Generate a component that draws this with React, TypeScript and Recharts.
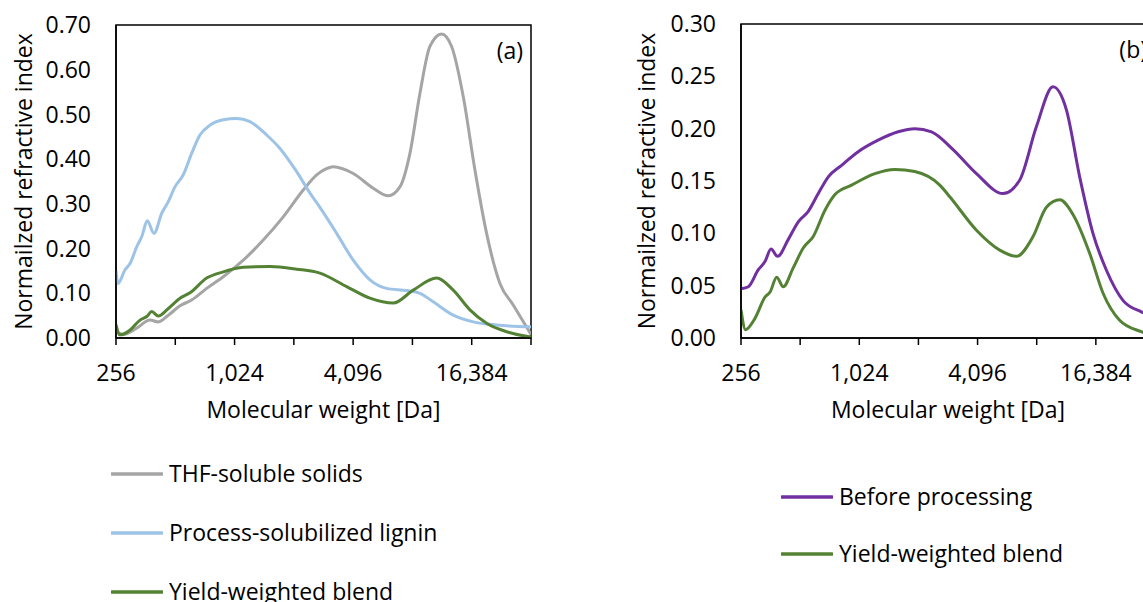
import React from 'react';
import { LineChart, Line, XAxis, YAxis, ReferenceArea, Legend } from 'recharts';

// ---------- axis ticks ----------
const xTicks = [256, 512, 1024, 2048, 4096, 8192, 16384, 32768];
const xLabelled = [256, 1024, 4096, 16384];
const yTicksA = [0, 0.1, 0.2, 0.3, 0.4, 0.5, 0.6, 0.7];
const yTicksB = [0, 0.05, 0.1, 0.15, 0.2, 0.25, 0.3];

// ---------- series names ----------
const seriesA = ['THF-soluble solids', 'Process-solubilized lignin', 'Yield-weighted blend'];
const seriesB = ['Before processing', 'Yield-weighted blend'];

// ---------- panel (a) ----------
const thfMW = [256, 279, 326, 381, 420, 472, 541, 620, 739, 897, 1134, 1432, 1809, 2286, 2675, 2945, 3245, 4101, 5181, 6174, 7078, 7957, 8941, 10050, 11521, 12954, 14838, 17008, 19497, 22789, 26616, 32768];
const thfRI = [0.015, 0.008, 0.022, 0.040, 0.036, 0.051, 0.072, 0.085, 0.111, 0.137, 0.174, 0.219, 0.271, 0.331, 0.365, 0.377, 0.383, 0.368, 0.335, 0.318, 0.338, 0.413, 0.547, 0.652, 0.680, 0.652, 0.540, 0.376, 0.234, 0.122, 0.074, 0.008];

const ligninMW = [256, 262, 284, 302, 326, 346, 369, 399, 437, 472, 510, 562, 620, 683, 768, 897, 1049, 1226, 1490, 1741, 2116, 2473, 2778, 3378, 4101, 4984, 6059, 7654, 8941, 10447, 13199, 16676, 21921, 32768];
const ligninRI = [0.150, 0.122, 0.152, 0.167, 0.204, 0.227, 0.262, 0.234, 0.279, 0.305, 0.338, 0.365, 0.413, 0.454, 0.476, 0.488, 0.491, 0.484, 0.454, 0.424, 0.372, 0.324, 0.292, 0.234, 0.174, 0.130, 0.111, 0.106, 0.100, 0.081, 0.051, 0.036, 0.029, 0.025];

const blendAMW = [256, 268, 302, 339, 367, 389, 420, 472, 541, 608, 739, 897, 1134, 1549, 2116, 2778, 3796, 4984, 6545, 8267, 10870, 13199, 16046, 19497, 24643, 32768];
const blendARI = [0.030, 0.007, 0.018, 0.040, 0.048, 0.059, 0.049, 0.066, 0.089, 0.101, 0.134, 0.148, 0.158, 0.160, 0.154, 0.145, 0.115, 0.089, 0.078, 0.107, 0.134, 0.107, 0.063, 0.033, 0.014, 0.002];

// ---------- panel (b) ----------
const beforeMW = [256, 279, 313, 339, 364, 393, 445, 501, 563, 633, 712, 832, 1011, 1277, 1615, 1963, 2388, 3074, 4043, 5522, 6714, 8164, 9912, 11600, 13552, 15836, 18522, 22506, 27917, 32768];
const beforeRI = [0.047, 0.049, 0.065, 0.073, 0.085, 0.078, 0.094, 0.111, 0.121, 0.138, 0.154, 0.165, 0.178, 0.189, 0.197, 0.200, 0.197, 0.180, 0.157, 0.138, 0.151, 0.202, 0.240, 0.218, 0.154, 0.100, 0.065, 0.036, 0.025, 0.020];

const blendBMW = [256, 270, 302, 339, 360, 389, 420, 472, 531, 597, 685, 770, 936, 1230, 1553, 1963, 2631, 2957, 4043, 5312, 6459, 7847, 9178, 10727, 12529, 15232, 17806, 21647, 27917, 32768];
const blendBRI = [0.027, 0.008, 0.019, 0.039, 0.044, 0.058, 0.049, 0.067, 0.086, 0.097, 0.122, 0.137, 0.146, 0.157, 0.161, 0.159, 0.146, 0.135, 0.103, 0.084, 0.078, 0.097, 0.125, 0.132, 0.118, 0.081, 0.043, 0.017, 0.006, 0.002];

const zip = (mw: number[], ri: number[]) => mw.map((m, i) => ({ mw: m, ri: ri[i] }));

const thfData = zip(thfMW, thfRI);
const ligninData = zip(ligninMW, ligninRI);
const blendAData = zip(blendAMW, blendARI);
const beforeData = zip(beforeMW, beforeRI);
const blendBData = zip(blendBMW, blendBRI);

const FONT = 23;

const yTitle = (dx: number) => (props: any) => {
  const vb = props.viewBox || { x: 0, y: 0, width: 0, height: 0 };
  const cx = vb.x + dx;
  const cy = vb.y + vb.height / 2;
  return (
    <text
      x={cx}
      y={cy}
      transform={`rotate(-90 ${cx} ${cy})`}
      textAnchor="middle"
      dominantBaseline="central"
      fontSize={FONT}
      fill="#000"
    >
      Normailzed refractive index
    </text>
  );
};

const legendContent = (itemH: number, order: string[]) => (props: any) => {
  const payload = [...(props.payload || [])].sort(
    (a: any, b: any) => order.indexOf(a.value) - order.indexOf(b.value)
  );
  return (
    <div>
      {payload.map((p: any) => (
        <div key={p.value} style={{ display: 'flex', alignItems: 'center', height: itemH }}>
          <svg width={52} height={6} style={{ display: 'block' }}>
            <line x1={1} y1={3} x2={51} y2={3} stroke={p.color} strokeWidth={3.5} strokeLinecap="round" />
          </svg>
          <span style={{ marginLeft: 6, fontSize: 23, color: '#000', whiteSpace: 'nowrap', lineHeight: 1 }}>{p.value}</span>
        </div>
      ))}
    </div>
  );
};

const xFmt = (v: number) => (xLabelled.includes(v) ? v.toLocaleString('en-US') : '');

export default function App() {
  return (
    <div
      style={{
        position: 'absolute',
        left: 0,
        top: 0,
        width: 1143,
        height: 602,
        overflow: 'hidden',
        background: '#fff',
        fontFamily: '"Open Sans", sans-serif',
      }}
    >
      <div style={{ position: 'absolute', left: 0, top: 0 }}>
        <LineChart width={560} height={602} margin={{ top: 25, right: 29, left: 6, bottom: 184 }}>
          <XAxis
            dataKey="mw"
            type="number"
            scale="log"
            domain={[256, 32768]}
            ticks={xTicks}
            interval={0}
            allowDataOverflow
            tickFormatter={xFmt}
            tick={{ fill: '#000', fontSize: FONT }}
            tickSize={7}
            tickMargin={20}
            height={80}
            axisLine={{ stroke: '#000', strokeWidth: 1.5 }}
            tickLine={{ stroke: '#000', strokeWidth: 1.5 }}
            label={{ value: 'Molecular weight [Da]', position: 'insideBottom', offset: 0, fill: '#000', fontSize: FONT }}
          />
          <YAxis
            type="number"
            domain={[0, 0.7]}
            ticks={yTicksA}
            interval={0}
            allowDataOverflow
            tickFormatter={(v: number) => v.toFixed(2)}
            tick={{ fill: '#000', fontSize: FONT }}
            tickLine={false}
            tickSize={0}
            tickMargin={25}
            width={110}
            axisLine={{ stroke: '#000', strokeWidth: 1.5 }}
            label={{ content: yTitle(17) }}
          />
          <ReferenceArea
            x1={256}
            x2={32768}
            y1={0}
            y2={0.7}
            fill="none"
            stroke="#000"
            strokeWidth={1.5}
            ifOverflow="visible"
            label={{ value: '(a)', position: 'insideTopRight', offset: 8, dy: 10, fill: '#000', fontSize: 23 }}
          />
          <Line data={thfData} dataKey="ri" name={seriesA[0]} type="monotone" stroke="#A5A5A5" strokeWidth={3} dot={false} activeDot={false} isAnimationActive={false} />
          <Line data={ligninData} dataKey="ri" name={seriesA[1]} type="monotone" stroke="#9DC3E6" strokeWidth={3} dot={false} activeDot={false} isAnimationActive={false} />
          <Line data={blendAData} dataKey="ri" name={seriesA[2]} type="monotone" stroke="#548235" strokeWidth={3} dot={false} activeDot={false} isAnimationActive={false} />
          <Legend
            layout="vertical"
            align="center"
            verticalAlign="middle"
            content={legendContent(59, seriesA)}
            wrapperStyle={{ left: 111, top: 444, width: 420 }}
          />
        </LineChart>
      </div>
      <div style={{ position: 'absolute', left: 625, top: 0 }}>
        <LineChart width={560} height={602} margin={{ top: 24, right: 30, left: 6, bottom: 184 }}>
          <XAxis
            dataKey="mw"
            type="number"
            scale="log"
            domain={[256, 32768]}
            ticks={xTicks}
            interval={0}
            allowDataOverflow
            tickFormatter={xFmt}
            tick={{ fill: '#000', fontSize: FONT }}
            tickSize={7}
            tickMargin={20}
            height={80}
            axisLine={{ stroke: '#000', strokeWidth: 1.5 }}
            tickLine={{ stroke: '#000', strokeWidth: 1.5 }}
            label={{ value: 'Molecular weight [Da]', position: 'insideBottom', offset: 0, fill: '#000', fontSize: FONT }}
          />
          <YAxis
            type="number"
            domain={[0, 0.3]}
            ticks={yTicksB}
            interval={0}
            allowDataOverflow
            tickFormatter={(v: number) => v.toFixed(2)}
            tick={{ fill: '#000', fontSize: FONT }}
            tickLine={false}
            tickSize={0}
            tickMargin={25}
            width={110}
            axisLine={{ stroke: '#000', strokeWidth: 1.5 }}
            label={{ content: yTitle(15) }}
          />
          <ReferenceArea
            x1={256}
            x2={32768}
            y1={0}
            y2={0.3}
            fill="none"
            stroke="#000"
            strokeWidth={1.5}
            ifOverflow="visible"
            label={{ value: '(b)', position: 'insideTopRight', offset: 8, dy: 10, fill: '#000', fontSize: 23 }}
          />
          <Line data={beforeData} dataKey="ri" name={seriesB[0]} type="monotone" stroke="#7030A0" strokeWidth={3} dot={false} activeDot={false} isAnimationActive={false} />
          <Line data={blendBData} dataKey="ri" name={seriesB[1]} type="monotone" stroke="#548235" strokeWidth={3} dot={false} activeDot={false} isAnimationActive={false} />
          <Legend
            layout="vertical"
            align="center"
            verticalAlign="middle"
            content={legendContent(57, seriesB)}
            wrapperStyle={{ left: 156, top: 468, width: 360 }}
          />
        </LineChart>
      </div>
    </div>
  );
}
